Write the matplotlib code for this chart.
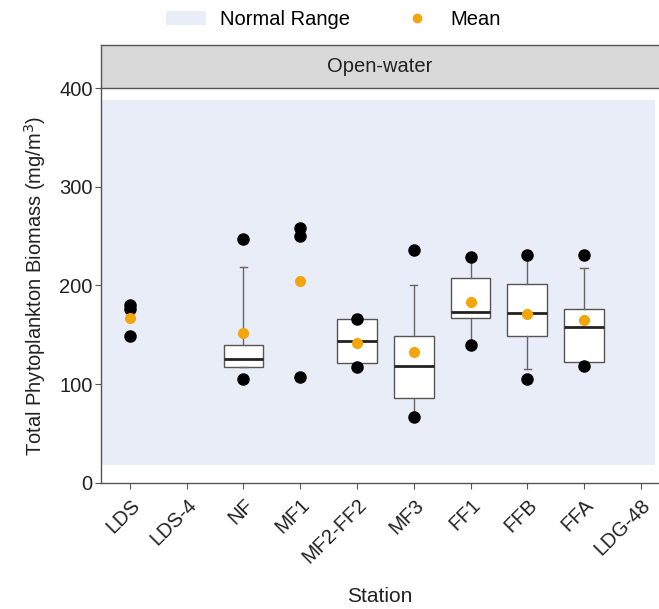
import matplotlib.pyplot as plt
from matplotlib.patches import Patch, Rectangle
from matplotlib.lines import Line2D

plt.rcParams['font.family'] = ['Liberation Sans', 'DejaVu Sans']

stations = ['LDS', 'LDS-4', 'NF', 'MF1', 'MF2-FF2', 'MF3', 'FF1', 'FFB', 'FFA', 'LDG-48']

# box statistics (only stations with enough samples)
box_stations = ['NF', 'MF2-FF2', 'MF3', 'FF1', 'FFB', 'FFA']
box_q1 = [117.5, 121.5, 86, 167, 149, 122.5]
box_med = [125.6, 144, 118.5, 173, 172, 158]
box_q3 = [140, 166, 149, 207.6, 201.5, 176]
whis_lo = [117.5, 117.5, 67, 140, 115.5, 122.5]
whis_hi = [218.7, 166, 200.5, 229, 231, 217.7]

# black points (min / max or raw values)
pt_stations = ['LDS', 'LDS', 'LDS', 'NF', 'NF', 'MF1', 'MF1', 'MF1',
               'MF2-FF2', 'MF2-FF2', 'MF3', 'MF3', 'FF1', 'FF1',
               'FFB', 'FFB', 'FFA', 'FFA']
pt_values = [180, 176, 149, 247, 105, 258, 250, 107,
             166, 117.5, 236, 67, 229, 140,
             231, 105, 231, 118.5]

# means
mean_stations = ['LDS', 'NF', 'MF1', 'MF2-FF2', 'MF3', 'FF1', 'FFB', 'FFA']
mean_values = [167, 152, 205, 142, 133, 183, 171, 165]

normal_lo, normal_hi = 18, 388

pos = {s: i + 1 for i, s in enumerate(stations)}
x_left, x_right = 0.49, 10.32

fig = plt.figure(figsize=(6.59, 6.09), dpi=100)
ax = fig.add_axes([0.1533, 0.2069, 0.8467, 0.6486])

ax.add_patch(Rectangle((x_left, normal_lo), 10.25 - x_left, normal_hi - normal_lo,
                       facecolor='#E9EDF7', edgecolor='none', zorder=0))

stats = []
for i, s in enumerate(box_stations):
    stats.append(dict(med=box_med[i], q1=box_q1[i], q3=box_q3[i],
                      whislo=whis_lo[i], whishi=whis_hi[i], fliers=[]))
ax.bxp(stats, positions=[pos[s] for s in box_stations], widths=0.7,
       capwidths=0.13, showfliers=False, patch_artist=True,
       boxprops=dict(facecolor='white', edgecolor='#555555', linewidth=1.0),
       medianprops=dict(color='#222222', linewidth=2.0),
       whiskerprops=dict(color='#666666', linewidth=1.0),
       capprops=dict(color='#666666', linewidth=1.0), zorder=2)

ax.plot([pos[s] for s in pt_stations], pt_values, 'o', color='black',
        markersize=8, zorder=3, linestyle='none')
ax.plot([pos[s] for s in mean_stations], mean_values, 'o', color='#F2A60C',
        markersize=7, zorder=4, linestyle='none')

ax.set_xlim(x_left, x_right)
ax.set_ylim(0, 400)
ax.set_yticks([0, 100, 200, 300, 400])
ax.set_xticks(range(1, len(stations) + 1))
ax.set_xticklabels(stations, rotation=45, ha='right', va='top',
                   rotation_mode='anchor')
ax.tick_params(axis='both', labelsize=14.5, colors='#555555', length=4,
               labelcolor='#222222')
ax.tick_params(axis='x', pad=5)
ax.tick_params(axis='y', pad=2)
for side in ['top', 'right']:
    ax.spines[side].set_visible(False)
for side in ['left', 'bottom']:
    ax.spines[side].set_color('#555555')
    ax.spines[side].set_linewidth(1.0)

ax.set_ylabel('Total Phytoplankton Biomass (mg/m$^3$)', fontsize=14.5,
              color='#222222', labelpad=8)
ax.set_xlabel('Station', fontsize=15, color='#222222', labelpad=14)

# facet strip
strip = fig.add_axes([0.1533, 0.8555, 0.8467, 0.0706])
strip.set_facecolor('#D9D9D9')
strip.set_xticks([])
strip.set_yticks([])
for sp in strip.spines.values():
    sp.set_color('#555555')
    sp.set_linewidth(1.0)
strip.spines['right'].set_visible(False)
strip.text(0.5, 0.5, 'Open-water', ha='center', va='center', fontsize=14.5,
           color='#222222', transform=strip.transAxes)

handles = [Patch(facecolor='#E9EDF7', edgecolor='none', label='Normal Range'),
           Line2D([], [], marker='o', color='#F2A60C', linestyle='none',
                  markersize=6, label='Mean')]
fig.legend(handles=handles, loc='center', bbox_to_anchor=(0.506, 0.968),
           ncol=2, frameon=False, fontsize=14.5, handlelength=2.0,
           columnspacing=2.3, handletextpad=0.7)

fig.savefig('out.png', dpi=100)
